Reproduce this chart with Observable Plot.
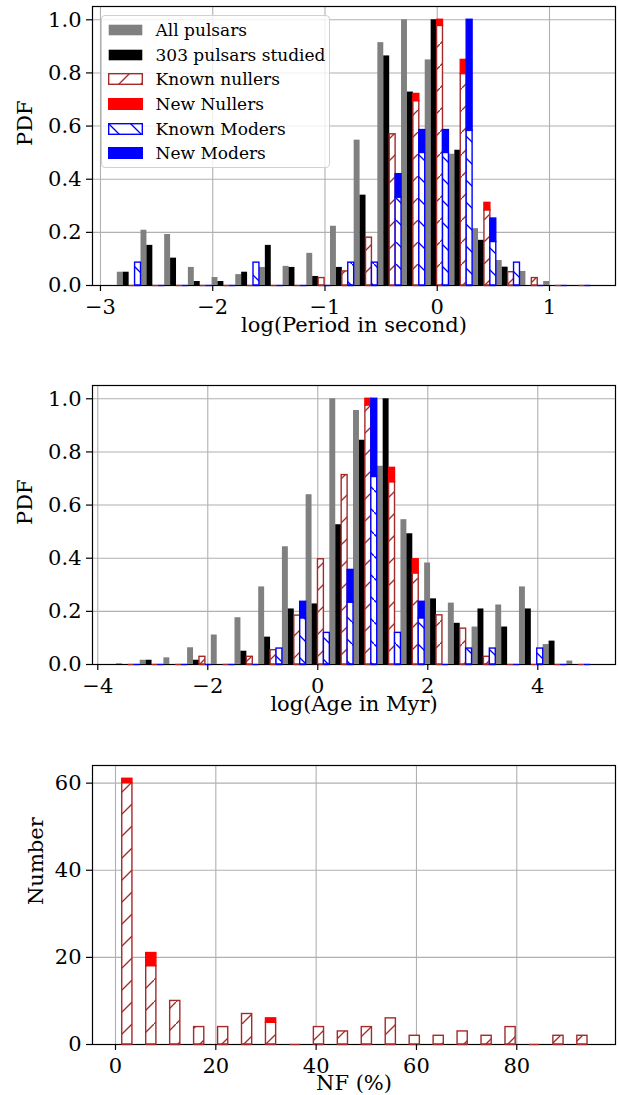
<!DOCTYPE html>
<html>
<head>
<meta charset="utf-8">
<script src="https://cdn.jsdelivr.net/npm/d3@7"></script>
<script src="https://cdn.jsdelivr.net/npm/@observablehq/plot@0.6"></script>
<style>
  body { margin: 0; background: white; font-family: "DejaVu Serif", serif; }
  #wrap { position: relative; width: 618px; height: 1095px; overflow: hidden; }
  #wrap svg { display: block; }
  .legend { position: absolute; left: 101px; top: 14.7px; width: 229px; height: 153px;
    box-sizing: border-box; border: 1px solid #d0d0d0; border-radius: 4px; background: rgba(255,255,255,0.8); }
  .row { position: absolute; left: 0; height: 24px; display: flex; align-items: center; }
  .row svg { margin-left: 5.5px; }
  .row span { margin-left: 13px; font-size: 17px; color: black; white-space: nowrap; }
</style>
</head>
<body>
<div id="wrap"></div>
<script>
// ---------- Data ----------
// Panel 1: log(Period in second), 20 bins
const periodBinStart = -2.85;
const periodBinWidth = 0.211;
const periodAll      = [0.050, 0.208, 0.192, 0.068, 0.030, 0.041, 0.068, 0.072, 0.121, 0.223, 0.547, 0.914, 1.000, 0.849, 0.494, 0.214, 0.094, 0.053, 0.015, 0.000];
const periodStudied  = [0.050, 0.151, 0.103, 0.015, 0.015, 0.050, 0.151, 0.068, 0.034, 0.068, 0.340, 0.864, 0.728, 1.000, 0.509, 0.170, 0.069, 0.000, 0.000, 0.000];
const periodKnownNul = [0, 0, 0, 0, 0, 0, 0, 0, 0.028, 0.053, 0.180, 0.569, 0.694, 0.977, 0.796, 0.283, 0.050, 0.028, 0, 0];
const periodNewNul   = [0, 0, 0, 0, 0, 0, 0, 0, 0, 0, 0, 0, 0.027, 0.023, 0.053, 0.028, 0, 0, 0, 0];
const periodKnownMod = [0.086, 0, 0, 0, 0, 0.086, 0, 0, 0, 0.086, 0.086, 0.331, 0.499, 0.499, 0.582, 0.164, 0.086, 0, 0, 0];
const periodNewMod   = [0, 0, 0, 0, 0, 0, 0, 0, 0, 0, 0, 0.088, 0.086, 0.086, 0.418, 0.088, 0, 0, 0, 0];
const periodTicks = [-3, -2, -1, 0, 1];

// Panel 2: log(Age in Myr), 20 bins
const ageBinStart = -3.66;
const ageBinWidth = 0.431;
const ageAll      = [0.003, 0.016, 0.025, 0.063, 0.111, 0.176, 0.292, 0.443, 0.639, 1.000, 0.956, 0.746, 0.545, 0.382, 0.231, 0.141, 0.224, 0.292, 0.075, 0.013];
const ageStudied  = [0, 0.016, 0, 0.016, 0, 0.050, 0.103, 0.209, 0.228, 0.526, 0.844, 1.000, 0.492, 0.247, 0.155, 0.209, 0.141, 0.209, 0.088, 0];
const ageKnownNul = [0, 0, 0, 0.029, 0, 0.029, 0.054, 0.184, 0.396, 0.713, 0.975, 0.686, 0.343, 0.185, 0.135, 0.029, 0, 0, 0, 0];
const ageNewNul   = [0, 0, 0, 0, 0, 0, 0, 0, 0, 0, 0.025, 0.054, 0.053, 0, 0, 0, 0, 0, 0, 0];
const ageKnownMod = [0, 0, 0, 0, 0, 0, 0.060, 0.174, 0.119, 0.233, 0.706, 0.119, 0.174, 0, 0.060, 0.060, 0, 0.060, 0, 0];
const ageNewMod   = [0, 0, 0, 0, 0, 0, 0, 0.062, 0, 0.123, 0.294, 0, 0.062, 0, 0, 0, 0, 0, 0, 0];
const ageTicks = [-4, -2, 0, 2, 4];

// Panel 3: NF (%), 20 bins, counts
const nfBinStart = 0.2;
const nfBinWidth = 4.775;
const nfKnown = [60, 18, 10, 4, 4, 7, 5, 0, 4, 3, 4, 6, 2, 2, 3, 2, 4, 0, 2, 2];
const nfNew   = [1, 3, 0, 0, 0, 0, 1, 0, 0, 0, 0, 0, 0, 0, 0, 0, 0, 0, 0, 0];
const nfTicks = [0, 20, 40, 60, 80];
const nfYTicks = [0, 20, 40, 60];
const pdfTicks = [0, 0.2, 0.4, 0.6, 0.8, 1.0];

const legendItems = ["All pulsars", "303 pulsars studied", "Known nullers", "New Nullers", "Known Moders", "New Moders"];

// ---------- Styles ----------
const GREY = "#808080", BROWN = "#a52a2a", RED = "#ff0000", BLUE = "#0000ff", GRID = "#b0b0b0";
const FONT = "DejaVu Serif";
const minusFmt = d => (d < 0 ? "\u2212" + Math.abs(d) : String(d));

// pattern defs
const NS = "http://www.w3.org/2000/svg";
const defsSvg = document.createElementNS(NS, "svg");
defsSvg.setAttribute("width", 0); defsSvg.setAttribute("height", 0);
defsSvg.style.position = "absolute";
defsSvg.innerHTML = `
<defs>
  <pattern id="hatchNul" patternUnits="userSpaceOnUse" width="22" height="22">
    <rect width="22" height="22" fill="white"/>
    <path d="M-3,25 L25,-3" stroke="${BROWN}" stroke-width="1.3" fill="none"/>
  </pattern>
  <pattern id="hatchMod" patternUnits="userSpaceOnUse" width="22" height="22">
    <rect width="22" height="22" fill="white"/>
    <path d="M-3,-3 L25,25" stroke="${BLUE}" stroke-width="1.3" fill="none"/>
  </pattern>
</defs>`;
const wrap = document.getElementById("wrap");
wrap.appendChild(defsSvg);

function rows(vals, start, width, frac0, frac1, base) {
  return vals.map((v, i) => {
    const e = start + i * width;
    const b = base ? base[i] : 0;
    return { x1: e + frac0 * width, x2: e + frac1 * width, y1: b, y2: b + v };
  });
}

function baseStyle() {
  return { fontFamily: FONT, fontSize: "21px", color: "black", background: "white", overflow: "visible" };
}

function histPanel(cfg) {
  const { start, width, all, studied, kn, nn, km, nm, xDomain, xTicks, xLabel, height, mt, mb } = cfg;
  const r = (v, s, base) => rows(v, start, width, s / 4, (s + 1) / 4, base);
  return Plot.plot({
    width: 618, height, marginLeft: 92, marginRight: 3, marginTop: mt, marginBottom: mb,
    style: baseStyle(),
    x: { domain: xDomain },
    y: { domain: [0, 1.05] },
    marks: [
      Plot.gridX(xTicks, { stroke: GRID, strokeOpacity: 1, strokeWidth: 1.1 }),
      Plot.gridY(pdfTicks, { stroke: GRID, strokeOpacity: 1, strokeWidth: 1.1 }),
      Plot.frame({ stroke: "black", strokeWidth: 1.2 }),
      Plot.rect(r(all, 0), { x1: "x1", x2: "x2", y1: "y1", y2: "y2", fill: GREY }),
      Plot.rect(r(studied, 1), { x1: "x1", x2: "x2", y1: "y1", y2: "y2", fill: "black" }),
      Plot.rect(r(kn, 2), { x1: "x1", x2: "x2", y1: "y1", y2: "y2", fill: "url(#hatchNul)", stroke: BROWN, strokeWidth: 1.4 }),
      Plot.ruleY(r(kn, 2), { x1: "x1", x2: "x2", y: "y1", stroke: BROWN, strokeWidth: 1.4 }),
      Plot.rect(r(nn, 2, kn).filter(d => d.y2 > d.y1), { x1: "x1", x2: "x2", y1: "y1", y2: "y2", fill: RED, stroke: RED, strokeWidth: 1.4 }),
      Plot.rect(r(km, 3), { x1: "x1", x2: "x2", y1: "y1", y2: "y2", fill: "url(#hatchMod)", stroke: BLUE, strokeWidth: 1.4 }),
      Plot.ruleY(r(km, 3), { x1: "x1", x2: "x2", y: "y1", stroke: BLUE, strokeWidth: 1.4 }),
      Plot.rect(r(nm, 3, km).filter(d => d.y2 > d.y1), { x1: "x1", x2: "x2", y1: "y1", y2: "y2", fill: BLUE, stroke: BLUE, strokeWidth: 1.4 }),
      Plot.axisX(xTicks, { tickSize: 6, tickPadding: 8, tickFormat: minusFmt, label: null, strokeWidth: 1.2, fontSize: 21 }),
      Plot.axisY(pdfTicks, { tickSize: 6, tickPadding: 5, tickFormat: d3.format(".1f"), label: null, strokeWidth: 1.2, fontSize: 21 }),
      Plot.text([xLabel], { frameAnchor: "bottom", dy: 46, text: d => d, fontSize: 21 }),
      Plot.text(["PDF"], { frameAnchor: "left", dx: -67, rotate: -90, text: d => d, fontSize: 21 })
    ]
  });
}

const p1 = histPanel({
  start: periodBinStart, width: periodBinWidth,
  all: periodAll, studied: periodStudied, kn: periodKnownNul, nn: periodNewNul, km: periodKnownMod, nm: periodNewMod,
  xDomain: [-3.071, 1.588], xTicks: periodTicks, xLabel: "log(Period in second)",
  height: 380, mt: 6, mb: 95
});
const p2 = histPanel({
  start: ageBinStart, width: ageBinWidth,
  all: ageAll, studied: ageStudied, kn: ageKnownNul, nn: ageNewNul, km: ageKnownMod, nm: ageNewMod,
  xDomain: [-4.096, 5.413], xTicks: ageTicks, xLabel: "log(Age in Myr)",
  height: 380, mt: 5, mb: 96
});

const nfRows = rows(nfKnown, nfBinStart, nfBinWidth, 0.24, 0.665);
const nfNewRows = rows(nfNew, nfBinStart, nfBinWidth, 0.24, 0.665, nfKnown).filter(d => d.y2 > d.y1);
const p3 = Plot.plot({
  width: 618, height: 335, marginLeft: 92, marginRight: 3, marginTop: 5, marginBottom: 51,
  style: baseStyle(),
  x: { domain: [-4.585, 99.68] },
  y: { domain: [0, 64.05] },
  marks: [
    Plot.gridX(nfTicks, { stroke: GRID, strokeOpacity: 1, strokeWidth: 1.1 }),
    Plot.gridY(nfYTicks, { stroke: GRID, strokeOpacity: 1, strokeWidth: 1.1 }),
    Plot.frame({ stroke: "black", strokeWidth: 1.2 }),
    Plot.rect(nfRows, { x1: "x1", x2: "x2", y1: "y1", y2: "y2", fill: "url(#hatchNul)", stroke: BROWN, strokeWidth: 1.4 }),
    Plot.ruleY(nfRows, { x1: "x1", x2: "x2", y: "y1", stroke: BROWN, strokeWidth: 1.4 }),
    Plot.rect(nfNewRows, { x1: "x1", x2: "x2", y1: "y1", y2: "y2", fill: RED, stroke: RED, strokeWidth: 1.4 }),
    Plot.axisX(nfTicks, { tickSize: 6, tickPadding: 8, tickFormat: minusFmt, label: null, strokeWidth: 1.2, fontSize: 21 }),
    Plot.axisY(nfYTicks, { tickSize: 6, tickPadding: 5, tickFormat: d => String(d), label: null, strokeWidth: 1.2, fontSize: 21 }),
    Plot.text(["NF (%)"], { frameAnchor: "bottom", dy: 45, text: d => d, fontSize: 21 }),
    Plot.text(["Number"], { frameAnchor: "left", dx: -56, rotate: -90, text: d => d, fontSize: 21 })
  ]
});

wrap.appendChild(p1);
wrap.appendChild(p2);
wrap.appendChild(p3);

// Legend (inside panel 1)
const legendSwatches = [
  `<rect x="0.7" y="0.7" width="33.6" height="10.6" fill="${GREY}"/>`,
  `<rect x="0.7" y="0.7" width="33.6" height="10.6" fill="black"/>`,
  `<rect x="0.7" y="0.7" width="33.6" height="10.6" fill="url(#hatchNul)" stroke="${BROWN}" stroke-width="1.4"/>`,
  `<rect x="0.7" y="0.7" width="33.6" height="10.6" fill="${RED}" stroke="${RED}" stroke-width="1.4"/>`,
  `<rect x="0.7" y="0.7" width="33.6" height="10.6" fill="url(#hatchMod)" stroke="${BLUE}" stroke-width="1.4"/>`,
  `<rect x="0.7" y="0.7" width="33.6" height="10.6" fill="${BLUE}" stroke="${BLUE}" stroke-width="1.4"/>`
];
const legend = document.createElement("div");
legend.className = "legend";
legendItems.forEach((name, i) => {
  const row = document.createElement("div");
  row.className = "row";
  row.style.top = (2.3 + i * 24.65) + "px";
  row.innerHTML = `<svg width="35" height="12" style="overflow:visible">${legendSwatches[i]}</svg><span>${name}</span>`;
  legend.appendChild(row);
});
wrap.appendChild(legend);
</script>
</body>
</html>
